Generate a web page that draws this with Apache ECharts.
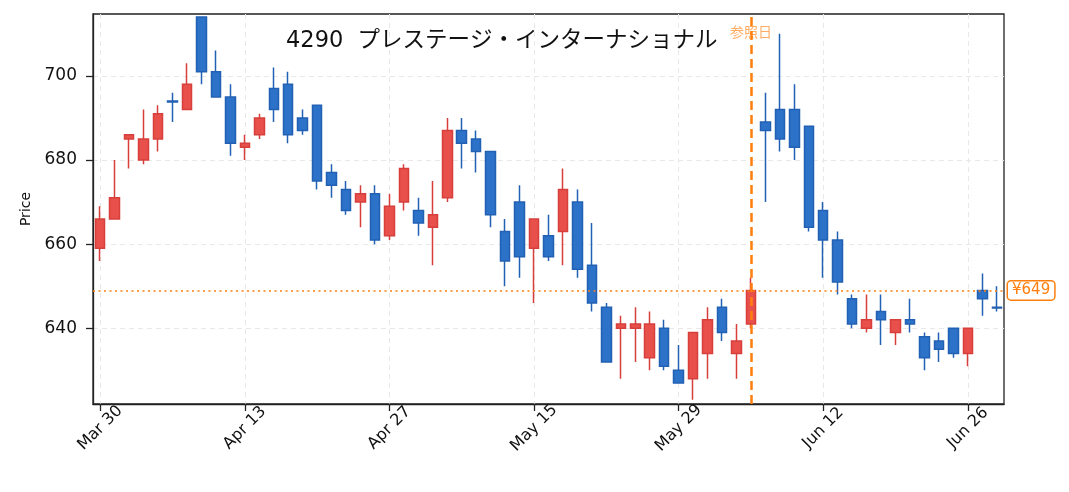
<!DOCTYPE html>
<html lang="ja">
<head>
    <meta charset="UTF-8">
    <title>4290 プレステージ・インターナショナル</title>
    <style type="text/css">
        html, body {
            margin: 0;
            padding: 0;
            background: #ffffff;
        }
        #chart {
            width: 1069px;
            height: 492px;
        }
    </style>
</head>
<body>
<div id="chart"></div>
<script src="https://cdn.jsdelivr.net/npm/echarts@6.0.0/dist/echarts.min.js"></script>
<script type="text/javascript">
    // trading days, Mar 30 - Jun 30
    var dates = ['Mar 30', 'Mar 31', 'Apr 1', 'Apr 2', 'Apr 3', 'Apr 6', 'Apr 7', 'Apr 8', 'Apr 9', 'Apr 10',
        'Apr 13', 'Apr 14', 'Apr 15', 'Apr 16', 'Apr 17', 'Apr 20', 'Apr 21', 'Apr 22', 'Apr 23', 'Apr 24',
        'Apr 27', 'Apr 28', 'Apr 30', 'May 1', 'May 7', 'May 8', 'May 11', 'May 12', 'May 13', 'May 14',
        'May 15', 'May 18', 'May 19', 'May 20', 'May 21', 'May 22', 'May 25', 'May 26', 'May 27', 'May 28',
        'May 29', 'Jun 1', 'Jun 2', 'Jun 3', 'Jun 4', 'Jun 5', 'Jun 8', 'Jun 9', 'Jun 10', 'Jun 11',
        'Jun 12', 'Jun 15', 'Jun 16', 'Jun 17', 'Jun 18', 'Jun 19', 'Jun 22', 'Jun 23', 'Jun 24', 'Jun 25',
        'Jun 26', 'Jun 29', 'Jun 30'];

    var opens  = [659, 666, 685, 680, 685, 694, 692, 714, 701, 695,
                  683, 686, 697, 698, 690, 693, 677, 673, 670, 672,
                  662, 670, 668, 664, 671, 687, 685, 682, 663, 670,
                  659, 662, 663, 670, 655, 645, 640, 640, 633, 640,
                  630, 628, 634, 645, 634, 641, 689, 692, 692, 688,
                  668, 661, 647, 640, 644, 639, 642, 638, 637, 640,
                  634, 649, 645];
    var closes = [666, 671, 686, 685, 691, 693.8, 698, 701, 695, 684,
                  684, 690, 692, 686, 687, 675, 674, 668, 672, 661,
                  669, 678, 665, 667, 687, 684, 682, 667, 656, 657,
                  666, 657, 673, 654, 646, 632, 641, 641, 641, 631,
                  627, 639, 642, 639, 637, 649, 687, 685, 683, 664,
                  661, 651, 641, 642, 642, 642, 641, 633, 635, 634,
                  640, 647, 644.8];
    var lows   = [656, 666, 678, 679, 682, 689, 692, 698, 695, 681,
                  680, 685, 689, 684, 686, 673, 671, 667, 664, 660,
                  661, 668, 662, 655, 670, 678, 677, 664, 650, 652,
                  646, 656, 655, 652, 644, 632, 628, 632, 630, 630,
                  627, 623, 628, 637, 628, 640, 670, 682, 680, 663,
                  652, 648, 640, 639, 636, 636, 639, 630, 632, 633,
                  631, 643, 644];
    var highs  = [669, 680, 686, 692, 693, 696, 703, 714, 706, 698,
                  686, 691, 702, 701, 692, 693, 679, 675, 674, 674,
                  672, 679, 671, 675, 690, 690, 687, 682, 666, 674,
                  666, 667, 678, 673, 665, 646, 643, 645, 644, 642,
                  636, 639, 645, 647, 641, 652, 696, 710, 698, 688,
                  670, 663, 648, 648, 648, 642, 647, 639, 639, 640,
                  640, 653, 650];

    var yTicks = [640, 660, 680, 700];
    var refDate = 'Jun 5';
    var refPrice = 649;

    var candles = [];
    for (var i = 0; i < dates.length; i++) {
        candles.push([opens[i], closes[i], lows[i], highs[i]]);
    }

    var font = "'DejaVu Sans', 'Noto Sans CJK JP', sans-serif";

    var chart = echarts.init(document.getElementById('chart'));
    chart.setOption({
        animation: false,
        textStyle: {fontFamily: font},
        title: {
            text: '4290  プレステージ・インターナショナル',
            left: 281,
            top: 25,
            textStyle: {
                fontFamily: font,
                fontSize: 22.5,
                fontWeight: 'normal',
                color: '#111'
            }
        },
        grid: {
            left: 93,
            right: 65,
            top: 14,
            bottom: 88,
            show: true,
            borderColor: '#222',
            borderWidth: 1.3,
            outerBoundsMode: 'none'
        },
        xAxis: {
            type: 'category',
            data: dates,
            boundaryGap: true,
            axisLine: {show: true, lineStyle: {color: '#222', width: 1.3}},
            axisTick: {
                show: true,
                alignWithLabel: true,
                interval: 9,
                length: 7,
                lineStyle: {color: '#222', width: 1.3}
            },
            axisLabel: {
                interval: 9,
                rotate: 45,
                align: 'center',
                verticalAlign: 'middle',
                fontSize: 16,
                color: '#111',
                margin: 24
            },
            splitLine: {
                show: true,
                alignWithLabel: true,
                interval: 9,
                lineStyle: {color: '#e8e8e8', type: [5, 4], width: 1}
            }
        },
        yAxis: {
            type: 'value',
            min: 622,
            max: 714.7,
            name: 'Price',
            nameLocation: 'middle',
            nameGap: 60,
            nameTextStyle: {fontSize: 14, color: '#111'},
            axisLine: {show: true, lineStyle: {color: '#222', width: 1.3}},
            axisTick: {
                show: true,
                length: 7,
                customValues: yTicks,
                lineStyle: {color: '#222', width: 1.3}
            },
            axisLabel: {
                customValues: yTicks,
                fontSize: 17,
                color: '#111',
                margin: 16
            },
            splitLine: {
                show: true,
                lineStyle: {color: '#e8e8e8', type: [5, 4], width: 1}
            }
        },
        series: [{
            type: 'candlestick',
            data: candles,
            barWidth: 10,
            itemStyle: {
                color: '#e8504c',
                color0: '#2c72c8',
                borderColor: '#d63f3b',
                borderColor0: '#2260b4',
                borderWidth: 1.5
            },
            markLine: {
                silent: true,
                symbol: ['none', 'none'],
                data: [
                    {
                        xAxis: refDate,
                        lineStyle: {color: '#ff7f0e', type: [9, 5], width: 2.5},
                        label: {
                            show: true,
                            position: 'end',
                            distance: -26,
                            formatter: '参照日',
                            color: 'rgba(255,127,14,0.65)',
                            fontSize: 14
                        }
                    },
                    {
                        yAxis: refPrice,
                        lineStyle: {color: '#ff7f0e', type: [2, 3.5], width: 1.6},
                        label: {
                            show: true,
                            position: 'end',
                            distance: 4,
                            formatter: '¥' + refPrice,
                            color: '#ff7f0e',
                            fontSize: 15,
                            backgroundColor: '#fff',
                            borderColor: '#ff7f0e',
                            borderWidth: 1.5,
                            borderRadius: 3,
                            padding: [2, 4, 1, 4]
                        }
                    }
                ]
            }
        }]
    });
</script>
</body>
</html>
